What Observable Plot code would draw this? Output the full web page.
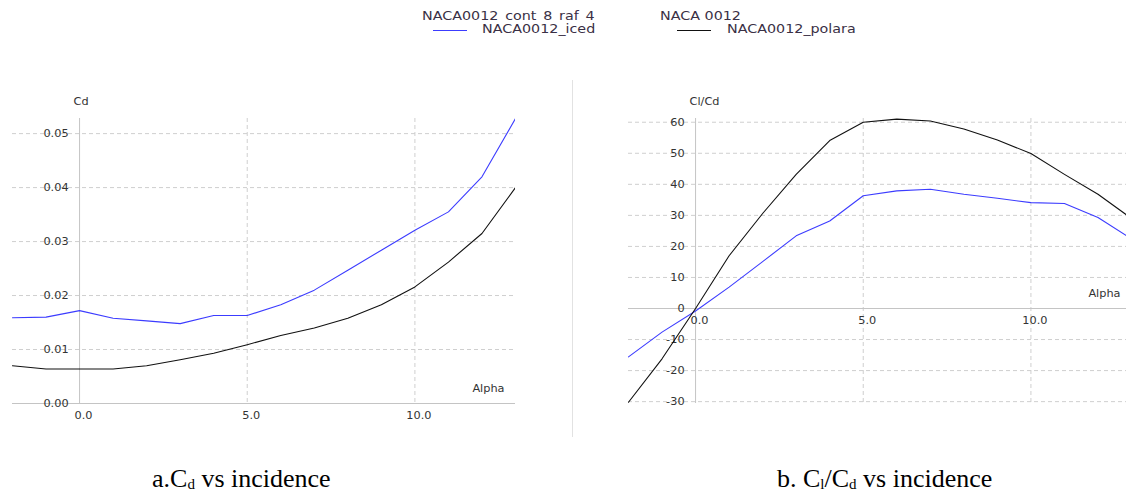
<!DOCTYPE html>
<html><head><meta charset="utf-8">
<script src="https://cdn.jsdelivr.net/npm/d3@7"></script>
<script src="https://cdn.jsdelivr.net/npm/@observablehq/plot@0.6"></script>
<style>
body{margin:0;background:#fff;width:1126px;height:494px;position:relative;overflow:hidden;font-family:"DejaVu Sans",sans-serif;}
.abs{position:absolute;white-space:nowrap;}
.leg{font-size:13px;color:#3a3045;line-height:14px;transform:scaleX(1.1);transform-origin:0 50%;}
.cap{font-family:"Liberation Serif","Times New Roman",serif;font-size:26px;color:#000;line-height:28px;}
.cap sub{font-size:15px;vertical-align:-2px;line-height:0;}
</style></head><body>
<div class="abs leg" style="left:422px;top:9px;word-spacing:2px">NACA0012 cont 8 raf 4</div>
<div class="abs" style="left:433px;top:30px;width:34px;height:1px;background:#3c3cff"></div>
<div class="abs leg" style="left:482px;top:22px">NACA0012_iced</div>
<div class="abs leg" style="left:660px;top:9px">NACA 0012</div>
<div class="abs" style="left:677px;top:30px;width:34px;height:1px;background:#111"></div>
<div class="abs leg" style="left:727px;top:22px">NACA0012_polara</div>
<div class="abs" style="left:572px;top:80px;width:1px;height:357px;background:#e2e2e2"></div>
<div id="left" class="abs" style="left:0px;top:80px"></div>
<div id="right" class="abs" style="left:580px;top:80px"></div>
<div class="abs cap" style="left:152px;top:465px">a.C<sub>d</sub> vs incidence</div>
<div class="abs cap" style="left:777px;top:465px">b. C<sub>l</sub>/C<sub>d</sub> vs incidence</div>
<script>
const alpha = [-2,-1,0,1,2,3,4,5,6,7,8,9,10,11,12,13];
const cdIced = [0.0159,0.0160,0.0172,0.0158,0.0153,0.0148,0.0163,0.0163,0.0183,0.0210,0.0247,0.0284,0.0321,0.0355,0.0420,0.0528];
const cdPolara = [0.0070,0.0064,0.0064,0.0064,0.0070,0.0081,0.0093,0.0109,0.0126,0.0140,0.0158,0.0183,0.0216,0.0262,0.0315,0.0400];
const clcdIced = [-15.6,-7.6,-0.8,6.9,15.1,23.4,28.2,36.3,37.9,38.4,36.8,35.5,34.1,33.8,29.3,22.4];
const clcdPolara = [-30.2,-16.2,0.0,17.0,30.6,43.2,54.1,60.0,61.0,60.4,57.8,54.3,49.9,43.2,36.8,29.0];
const xTicks = [0,5,10];
const cdTicks = [0,0.01,0.02,0.03,0.04,0.05];
const clcdTicks = [-30,-20,-10,0,10,20,30,40,50,60];

const BLUE = "#3c3cff", BLACK = "#111";
const GRID = "#cfcfcf", AXIS = "#c4c4c4", TXT = "#333";

function panel({width, marginLeft, marginRight, xDomain, yDomain, yTicks, yFmt, iced, polara, yLabel, alphaDx}) {
  const rows = (vals) => alpha.map((a, i) => ({alpha: a, v: vals[i]}));
  return Plot.plot({
    width, height: 345, marginTop: 38, marginBottom: 22, marginLeft, marginRight,
    x: {domain: xDomain, axis: null},
    y: {domain: yDomain, axis: null},
    style: {fontFamily: "DejaVu Sans, sans-serif", fontSize: "11.3px", background: "transparent", overflow: "visible"},
    marks: [
      Plot.ruleY(yTicks.filter(d => d !== 0), {stroke: GRID, strokeDasharray: "4,3"}),
      Plot.ruleX(xTicks.filter(d => d !== 0), {stroke: GRID, strokeDasharray: "4,3"}),
      Plot.ruleY([0], {stroke: AXIS}),
      Plot.ruleX([0], {stroke: AXIS}),
      Plot.text(yTicks, {x: 0, y: d => d, text: yFmt, textAnchor: "end", dx: -11, fill: TXT}),
      Plot.text(xTicks, {x: d => d, y: 0, text: d3.format(".1f"), dx: 4, dy: 12, fill: TXT}),
      Plot.text([yLabel], {x: 0, frameAnchor: "top", text: d => d, textAnchor: "start", dx: -6, dy: -22, fill: TXT}),
      Plot.text(["Alpha"], {y: 0, frameAnchor: "right", text: d => d, textAnchor: "end", dx: alphaDx, dy: -15, fill: TXT}),
      Plot.line(rows(iced), {x: "alpha", y: "v", stroke: BLUE, strokeWidth: 1.1, clip: true}),
      Plot.line(rows(polara), {x: "alpha", y: "v", stroke: BLACK, strokeWidth: 1.1, clip: true})
    ]
  });
}

document.getElementById("left").append(panel({
  width: 560, marginLeft: 12, marginRight: 45,
  xDomain: [-2, 13], yDomain: [0, 0.0528],
  yTicks: cdTicks, yFmt: d3.format(".2f"),
  iced: cdIced, polara: cdPolara, yLabel: "Cd", alphaDx: -11
}));
document.getElementById("right").append(panel({
  width: 546, marginLeft: 48, marginRight: 0,
  xDomain: [-2, 12.85], yDomain: [-30.6, 61.2],
  yTicks: clcdTicks, yFmt: d => String(d),
  iced: clcdIced, polara: clcdPolara, yLabel: "Cl/Cd", alphaDx: -6
}));
</script>
</body></html>
